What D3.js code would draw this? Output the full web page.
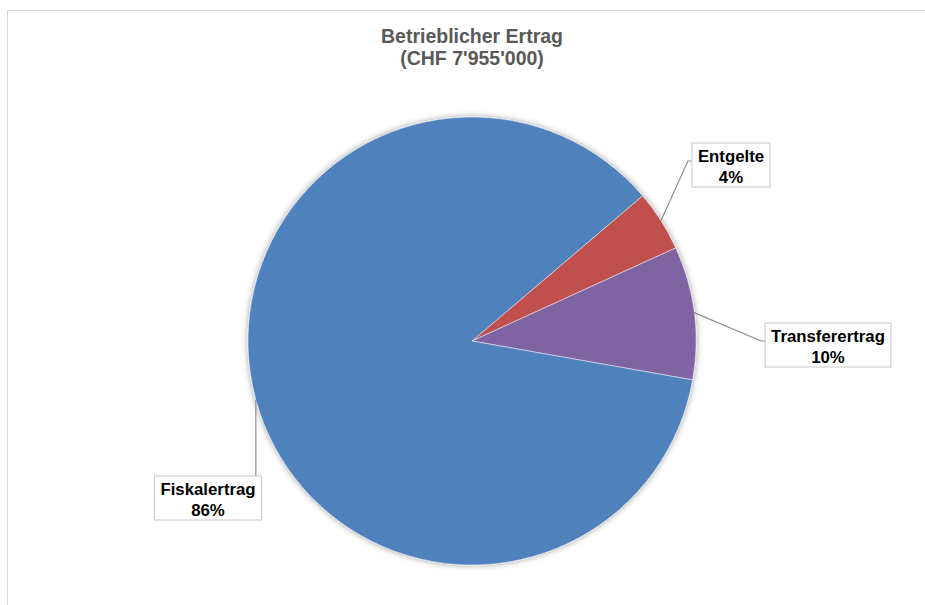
<!DOCTYPE html>
<html>
<head>
<meta charset="utf-8">
<script src="https://cdn.jsdelivr.net/npm/d3@7"></script>
<style>
  body { margin: 0; background: white; }
  svg { font-family: "Liberation Sans", Arial, sans-serif; }
</style>
</head>
<body>
<main></main>
<script>
// shares of "Betrieblicher Ertrag", in percent
let categories = ["Entgelte", "Transferertrag", "Fiskalertrag"]
let shares = [4.4, 9.6, 86.0]
let colors = ["#C0504D", "#8064A2", "#4F81BD"]
let titleLines = ["Betrieblicher Ertrag", "(CHF 7'955'000)"]

// where each label box sits relative to the pie centre, and where the leader attaches
let labelLayout = [
    { dx: 259, dy: -176, side: "left" },
    { dx: 356, dy: 4, side: "left" },
    { dx: -264, dy: 157, side: "top" }
]

const svgWidth = 925
const svgHeight = 605
const cx = 472
const cy = 341
const radius = 224

let svg = d3.select("main")
    .append("svg")
    .attr("width", svgWidth)
    .attr("height", svgHeight)

//outer frame
svg.append("rect")
    .attr("x", 7.5)
    .attr("y", 10.5)
    .attr("width", 960)
    .attr("height", 640)
    .attr("fill", "white")
    .attr("stroke", "#d9d9d9")

let defs = svg.append("defs")
let shadow = defs.append("filter")
    .attr("id", "shadow")
    .attr("x", "-20%").attr("y", "-20%")
    .attr("width", "140%").attr("height", "140%")
shadow.append("feDropShadow")
    .attr("dx", 0)
    .attr("dy", 0)
    .attr("stdDeviation", 3)
    .attr("flood-color", "#000")
    .attr("flood-opacity", 0.4)

//title
svg.append("text")
    .attr("x", cx)
    .attr("y", 43)
    .attr("text-anchor", "middle")
    .attr("fill", "#595959")
    .style("font-size", "19.5px")
    .style("font-weight", "bold")
    .selectAll("tspan")
    .data(titleLines)
    .enter()
    .append("tspan")
    .attr("x", cx)
    .attr("dy", (d, i) => i === 0 ? 0 : 21.5)
    .text(d => d)

let data = categories.map((c, i) => ({ name: c, value: shares[i], color: colors[i], layout: labelLayout[i] }))
let total = d3.sum(shares)

let startAngle = 49.6 * Math.PI / 180
let pie = d3.pie()
    .value(d => d.value)
    .sort(null)
    .startAngle(startAngle)
    .endAngle(startAngle + 2 * Math.PI)

let arc = d3.arc()
    .innerRadius(0)
    .outerRadius(radius)

let graph = svg.append("g")
    .attr("transform", `translate(${cx}, ${cy})`)

let arcs = pie(data)

graph.append("g")
    .attr("filter", "url(#shadow)")
    .selectAll("path")
    .data(arcs)
    .enter()
    .append("path")
    .attr("d", arc)
    .attr("fill", d => d.data.color)
    .attr("stroke", "rgba(255,255,255,0.6)")
    .attr("stroke-width", 0.8)

//labels with leader lines
let labels = graph.selectAll("g.label")
    .data(arcs)
    .enter()
    .append("g")
    .attr("class", "label")

labels.each(function (d) {
    let g = d3.select(this)
    let L = d.data.layout
    let mid = (d.startAngle + d.endAngle) / 2
    let ex = radius * Math.sin(mid)
    let ey = -radius * Math.cos(mid)

    let text = g.append("text")
        .attr("text-anchor", "middle")
        .attr("fill", "#000")
        .style("font-size", "16.8px")
        .style("font-weight", "bold")
    text.append("tspan").attr("x", L.dx).attr("y", L.dy - 3).text(d.data.name)
    text.append("tspan").attr("x", L.dx).attr("y", L.dy + 18).text(Math.round(d.data.value / total * 100) + "%")

    let bb = text.node().getBBox()
    let bx = bb.x - 6, by = L.dy - 22, bw = bb.width + 12, bh = 44

    g.insert("rect", "text")
        .attr("x", bx)
        .attr("y", by)
        .attr("width", bw)
        .attr("height", bh)
        .attr("fill", "white")
        .attr("stroke", "#c8c8c8")

    let pts
    if (L.side === "left") {
        let ly = by + bh / 2 - 4
        pts = [[ex, ey], [bx - 4, ly], [bx, ly]]
    } else {
        pts = [[ex, ey], [ex, by]]
    }
    g.insert("path", "rect")
        .attr("d", d3.line()(pts))
        .attr("fill", "none")
        .attr("stroke", "#8c8c8c")
        .attr("stroke-width", 1.2)
})
</script>
</body>
</html>
